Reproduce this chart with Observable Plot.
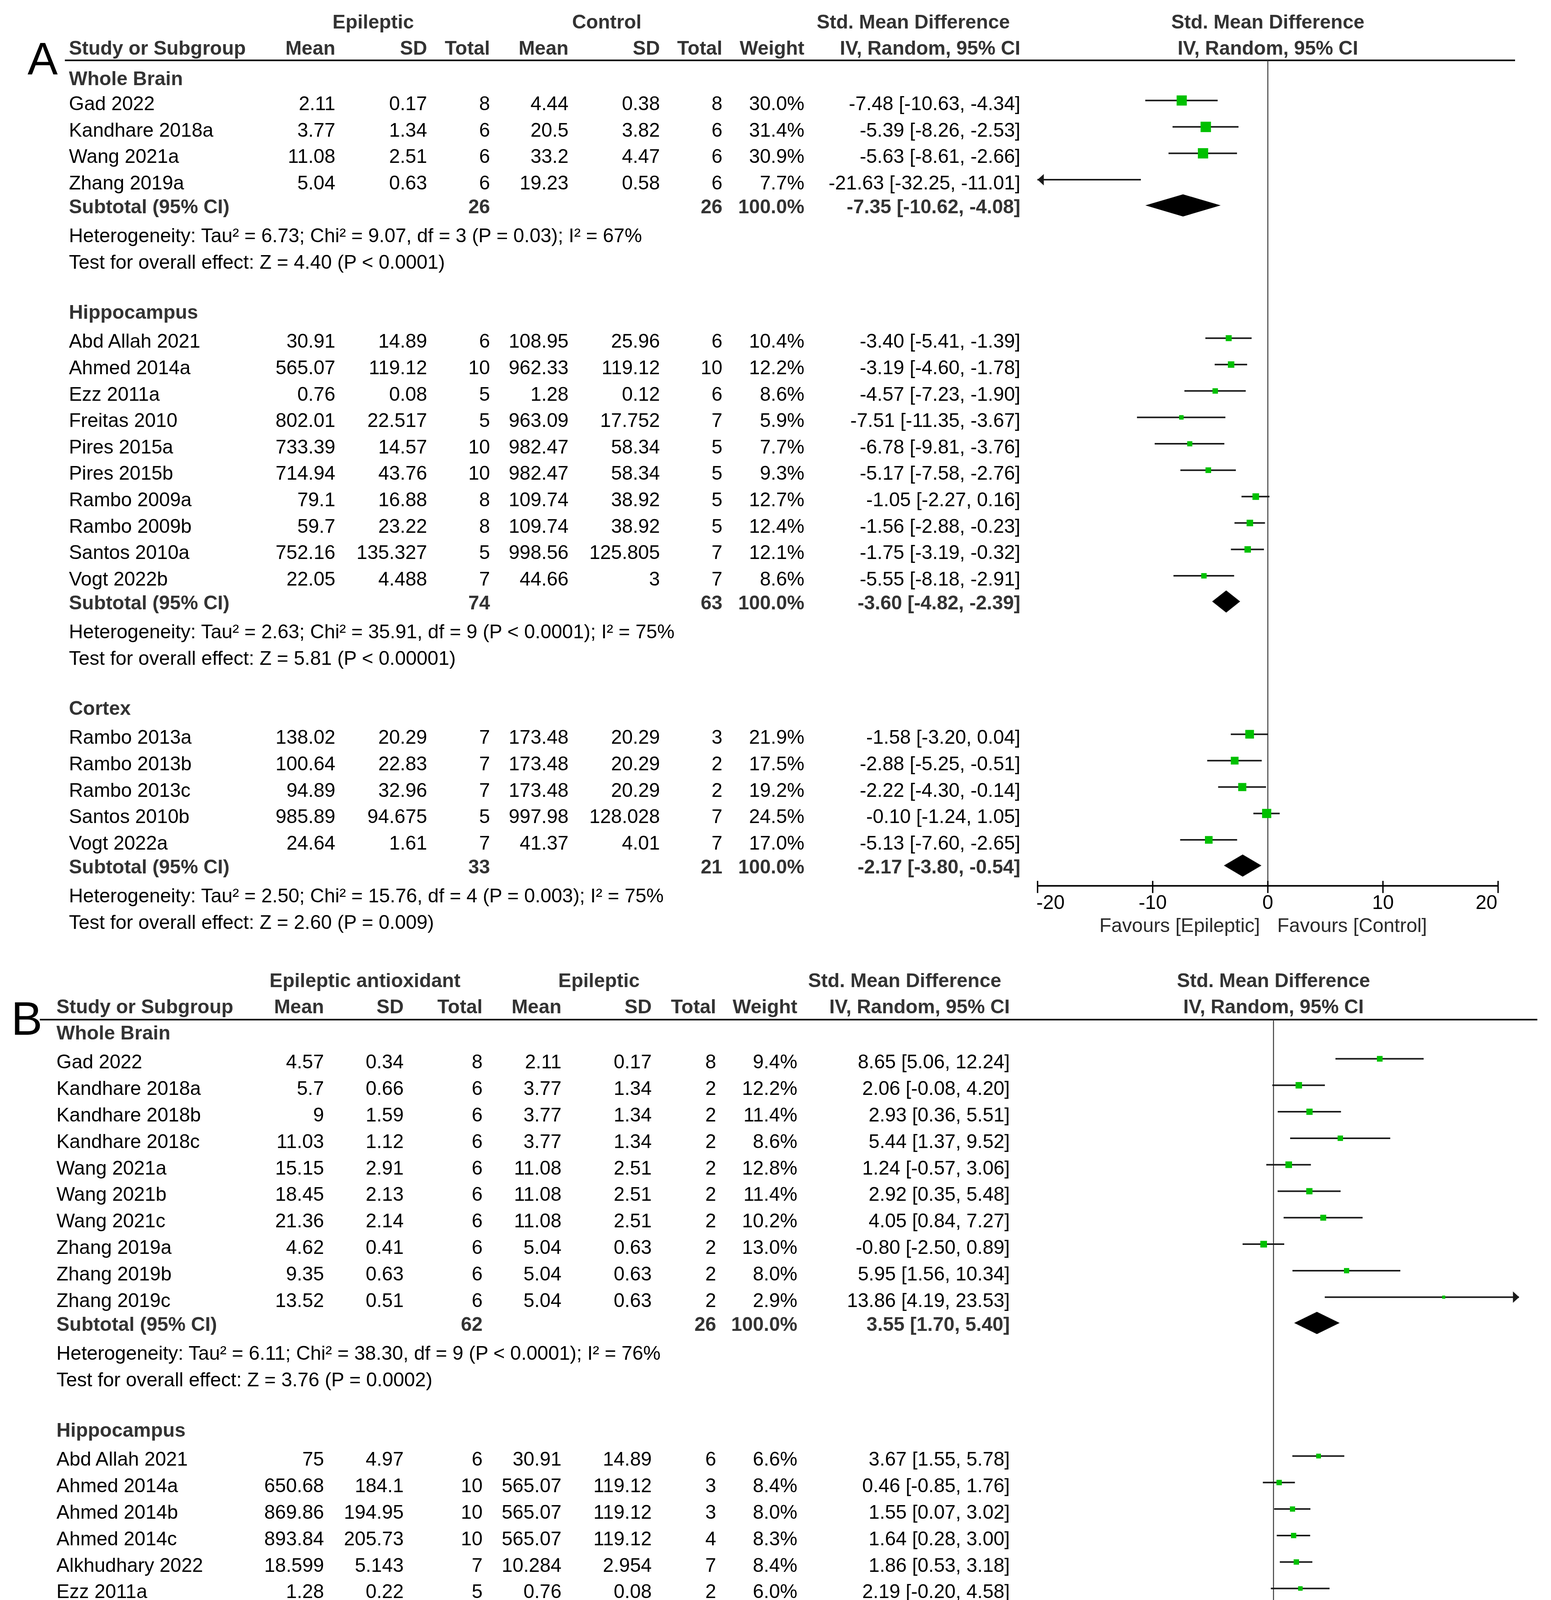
<!DOCTYPE html>
<html>
<head>
<meta charset="utf-8">
<script src="https://cdn.jsdelivr.net/npm/d3@7"></script>
<script src="https://cdn.jsdelivr.net/npm/@observablehq/plot@0.6"></script>
<style>
  html, body { margin: 0; padding: 0; background: #fff; }
  #root svg { display: block; }
</style>
</head>
<body>
<div id="root"></div>
<script>
// ---------------- DATA ----------------
const ticksX = [-20, -10, 0, 10, 20];
const groupNames = ["Whole Brain", "Hippocampus", "Cortex"];
const colHeads = ["Study or Subgroup", "Mean", "SD", "Total", "Mean", "SD", "Total", "Weight", "IV, Random, 95% CI"];
const smdTitle = "Std. Mean Difference";
const ciTitle = "IV, Random, 95% CI";

// Panel A: Epileptic vs Control
const labelA = "A";
const headTopA = ["Epileptic", "Control"];
const favoursA = ["Favours [Epileptic]", "Favours [Control]"];
const studyA = ["Gad 2022", "Kandhare 2018a", "Wang 2021a", "Zhang 2019a",
  "Abd Allah 2021", "Ahmed 2014a", "Ezz 2011a", "Freitas 2010", "Pires 2015a", "Pires 2015b", "Rambo 2009a", "Rambo 2009b", "Santos 2010a", "Vogt 2022b",
  "Rambo 2013a", "Rambo 2013b", "Rambo 2013c", "Santos 2010b", "Vogt 2022a"];
const groupA = [0,0,0,0, 1,1,1,1,1,1,1,1,1,1, 2,2,2,2,2];
const meanE_A = [2.11, 3.77, 11.08, 5.04, 30.91, 565.07, 0.76, 802.01, 733.39, 714.94, 79.1, 59.7, 752.16, 22.05, 138.02, 100.64, 94.89, 985.89, 24.64];
const sdE_A = [0.17, 1.34, 2.51, 0.63, 14.89, 119.12, 0.08, 22.517, 14.57, 43.76, 16.88, 23.22, 135.327, 4.488, 20.29, 22.83, 32.96, 94.675, 1.61];
const nE_A = [8, 6, 6, 6, 6, 10, 5, 5, 10, 10, 8, 8, 5, 7, 7, 7, 7, 5, 7];
const meanC_A = [4.44, 20.5, 33.2, 19.23, 108.95, 962.33, 1.28, 963.09, 982.47, 982.47, 109.74, 109.74, 998.56, 44.66, 173.48, 173.48, 173.48, 997.98, 41.37];
const sdC_A = [0.38, 3.82, 4.47, 0.58, 25.96, 119.12, 0.12, 17.752, 58.34, 58.34, 38.92, 38.92, 125.805, 3, 20.29, 20.29, 20.29, 128.028, 4.01];
const nC_A = [8, 6, 6, 6, 6, 10, 6, 7, 5, 5, 5, 5, 7, 7, 3, 2, 2, 7, 7];
const weightA = [30.0, 31.4, 30.9, 7.7, 10.4, 12.2, 8.6, 5.9, 7.7, 9.3, 12.7, 12.4, 12.1, 8.6, 21.9, 17.5, 19.2, 24.5, 17.0];
const smdA = [-7.48, -5.39, -5.63, -21.63, -3.40, -3.19, -4.57, -7.51, -6.78, -5.17, -1.05, -1.56, -1.75, -5.55, -1.58, -2.88, -2.22, -0.10, -5.13];
const loA = [-10.63, -8.26, -8.61, -32.25, -5.41, -4.60, -7.23, -11.35, -9.81, -7.58, -2.27, -2.88, -3.19, -8.18, -3.20, -5.25, -4.30, -1.24, -7.60];
const hiA = [-4.34, -2.53, -2.66, -11.01, -1.39, -1.78, -1.90, -3.67, -3.76, -2.76, 0.16, -0.23, -0.32, -2.91, 0.04, -0.51, -0.14, 1.05, -2.65];
const subNE_A = [26, 74, 33];
const subNC_A = [26, 63, 21];
const subSmdA = [-7.35, -3.60, -2.17];
const subLoA = [-10.62, -4.82, -3.80];
const subHiA = [-4.08, -2.39, -0.54];
const tau2A = [6.73, 2.63, 2.50];
const chi2A = [9.07, 35.91, 15.76];
const dfA = [3, 9, 4];
const hetPA = ["P = 0.03", "P < 0.0001", "P = 0.003"];
const i2A = [67, 75, 75];
const zA = [4.40, 5.81, 2.60];
const zPA = ["P < 0.0001", "P < 0.00001", "P = 0.009"];

// Panel B: Epileptic antioxidant vs Epileptic
const labelB = "B";
const headTopB = ["Epileptic antioxidant", "Epileptic"];
const favoursB = ["Favours [Epileptic]", "Favours [Antioxidant]"];
const studyB = ["Gad 2022", "Kandhare 2018a", "Kandhare 2018b", "Kandhare 2018c", "Wang 2021a", "Wang 2021b", "Wang 2021c", "Zhang 2019a", "Zhang 2019b", "Zhang 2019c",
  "Abd Allah 2021", "Ahmed 2014a", "Ahmed 2014b", "Ahmed 2014c", "Alkhudhary 2022", "Ezz 2011a", "Ezz 2011b", "Freitas 2010", "Pires 2015a", "Pires 2015b", "Rambo 2009a", "Rambo 2009b", "Santos 2010a", "Vogt 2022b",
  "Rambo 2013a", "Rambo 2013b", "Rambo 2013c", "Santos 2010b", "Vogt 2022a"];
const groupB = [0,0,0,0,0,0,0,0,0,0, 1,1,1,1,1,1,1,1,1,1,1,1,1,1, 2,2,2,2,2];
const meanE_B = [4.57, 5.7, 9, 11.03, 15.15, 18.45, 21.36, 4.62, 9.35, 13.52,
  75, 650.68, 869.86, 893.84, 18.599, 1.28, 0.88, 942.95, 987.08, 987.08, 100.75, 100, 955.33, 45.51,
  198.4, 217.57, 215.66, 991.94, 46.54];
const sdE_B = [0.34, 0.66, 1.59, 1.12, 2.91, 2.13, 2.14, 0.41, 0.63, 0.51,
  4.97, 184.1, 194.95, 205.73, 5.143, 0.22, 0.17, 15.004, 43.76, 29.18, 18.97, 27.43, 29.002, 5.227,
  17.75, 27.91, 25.34, 27.034, 0.792];
const nE_B = [8, 6, 6, 6, 6, 6, 6, 6, 6, 6, 6, 10, 10, 10, 7, 5, 6, 5, 10, 10, 8, 8, 5, 7, 7, 7, 7, 5, 7];
const meanC_B = [2.11, 3.77, 3.77, 3.77, 11.08, 11.08, 11.08, 5.04, 5.04, 5.04,
  30.91, 565.07, 565.07, 565.07, 10.284, 0.76, 0.76, 802.01, 733.39, 714.94, 79.1, 59.7, 752.16, 22.05,
  138.02, 100.64, 94.89, 985.89, 24.64];
const sdC_B = [0.17, 1.34, 1.34, 1.34, 2.51, 2.51, 2.51, 0.63, 0.63, 0.63,
  14.89, 119.12, 119.12, 119.12, 2.954, 0.08, 0.08, 22.517, 14.57, 43.76, 16.88, 23.22, 135.327, 4.488,
  20.29, 22.83, 32.96, 90.67, 1.61];
const nC_B = [8, 2, 2, 2, 2, 2, 2, 2, 2, 2, 6, 3, 3, 4, 7, 2, 3, 5, 10, 10, 8, 8, 5, 7, 7, 7, 7, 5, 7];
const weightB = [9.4, 12.2, 11.4, 8.6, 12.8, 11.4, 10.2, 13.0, 8.0, 2.9,
  6.6, 8.4, 8.0, 8.3, 8.4, 6.0, 8.1, 3.5, 5.4, 5.6, 8.9, 8.8, 7.7, 6.3,
  23.1, 21.7, 22.2, 24.1, 8.9];
const smdB = [8.65, 2.06, 2.93, 5.44, 1.24, 2.92, 4.05, -0.80, 5.95, 13.86,
  3.67, 0.46, 1.55, 1.64, 1.86, 2.19, 0.71, 6.65, 7.45, 7.01, 1.14, 1.50, 1.88, 4.51,
  2.97, 4.29, 3.85, 0.08, 16.16];
const loB = [5.06, -0.08, 0.36, 1.37, -0.57, 0.35, 0.84, -2.50, 1.56, 4.19,
  1.55, -0.85, 0.07, 0.28, 0.53, -0.20, -0.74, 2.71, 4.73, 4.43, 0.06, 0.35, 0.25, 2.28,
  1.30, 2.14, 1.87, -1.16, 9.02];
const hiB = [12.24, 4.20, 5.51, 9.52, 3.06, 5.48, 7.27, 0.89, 10.34, 23.53,
  5.78, 1.76, 3.02, 3.00, 3.18, 4.58, 2.17, 10.60, 10.17, 9.59, 2.22, 2.65, 3.50, 6.74,
  4.63, 6.44, 5.83, 1.32, 23.30];
const subNE_B = [62, 107, 33];
const subNC_B = [26, 81, 33];
const subSmdB = [3.55, 2.58, 3.93];
const subLoB = [1.70, 1.66, 1.29];
const subHiB = [5.40, 3.49, 6.57];
const tau2B = [6.11, 2.15, 7.13];
const chi2B = [38.30, 54.60, 33.00];
const dfB = [9, 13, 4];
const hetPB = ["P < 0.0001", "P < 0.00001", "P < 0.00001"];
const i2B = [76, 76, 88];
const zB = [3.76, 5.51, 2.92];
const zPB = ["P = 0.0002", "P < 0.00001", "P = 0.004"];

// ---------------- LAYOUT / STYLE ----------------
const FF = "'Liberation Sans', Arial, Helvetica, sans-serif";
const FS = 50;
const HEAD = "#333333";
const GREEN = "#00c000";
const INK = "#1a1a1a";
const colKeys = ["name", "meanE", "sdE", "nE", "meanC", "sdC", "nC", "weight", "ci"];

const layoutA = {
  height: 2440, y0: 56, pitch: 67.6, ml: 166, mr: 92, xr: [2656, 3835],
  cols: {name: 176, meanE: 858, sdE: 1093, nE: 1254, meanC: 1455, sdC: 1689, nC: 1849, weight: 2059, ci: 2612},
  headTop: [955, 1553], smdHeadRight: 2585,
  labelX: 70, labelPos: 1.44, labelSize: 116,
  linePos: 1.45, firstGroup: 2.15, firstStudy: 3.1, axisOff: 0.71
};
const layoutB = {
  height: 3111, y0: 70, pitch: 67.8, ml: 102, mr: 35, xr: [2631, 3889],
  cols: {name: 144, meanE: 829, sdE: 1033, nE: 1235, meanC: 1437, sdC: 1668, nC: 1833, weight: 2041, ci: 2585},
  headTop: [934, 1533], smdHeadRight: 2563,
  labelX: 28, labelPos: 1.47, labelSize: 120,
  linePos: 1.47, firstGroup: 1.98, firstStudy: 3.08, axisOff: 0.66
};
const GAP = {group: 1.9, groupToStudy: 1.1, sub: 0.9, het: 1.1, test: 1.0};
const MARK_OFF = -0.13;   // forest markers sit slightly above the text centre (row units)
const DIAMOND_OFF = -0.05;
const DIAMOND_H = 0.42;   // half height of summary diamond, in row units

const arrowLeft = {draw(ctx, size) { const s = Math.sqrt(size); ctx.moveTo(0, 0); ctx.lineTo(1.2 * s, -1.1 * s); ctx.lineTo(1.2 * s, 1.1 * s); ctx.closePath(); }};
const arrowRight = {draw(ctx, size) { const s = Math.sqrt(size); ctx.moveTo(0, 0); ctx.lineTo(-1.2 * s, -1.1 * s); ctx.lineTo(-1.2 * s, 1.1 * s); ctx.closePath(); }};

const fmtCI = (m, l, h) => `${m.toFixed(2)} [${l.toFixed(2)}, ${h.toFixed(2)}]`;

function buildPanel(P, L) {
  const studies = P.study.map((name, i) => ({
    name, g: P.group[i], meanE: P.meanE[i], sdE: P.sdE[i], nE: P.nE[i],
    meanC: P.meanC[i], sdC: P.sdC[i], nC: P.nC[i], w: P.weight[i],
    smd: P.smd[i], lo: P.lo[i], hi: P.hi[i]
  }));
  const groupPos = [], subPos = [], hetPos = [], testPos = [];
  let p = L.firstStudy;
  groupNames.forEach((gn, g) => {
    if (g === 0) groupPos.push(L.firstGroup);
    else { p += GAP.group; groupPos.push(p); p += GAP.groupToStudy; }
    const members = studies.filter(d => d.g === g);
    members.forEach((d, k) => { d.pos = p + k; d.mpos = p + k + MARK_OFF; });
    p += members.length - 1 + GAP.sub; subPos.push(p);
    p += GAP.het; hetPos.push(p);
    p += GAP.test; testPos.push(p);
  });
  const subs = groupNames.map((gn, i) => ({
    pos: subPos[i], nE: P.subNE[i], nC: P.subNC[i],
    smd: P.subSmd[i], lo: P.subLo[i], hi: P.subHi[i]
  }));
  const hets = groupNames.map((gn, i) => ({
    pos: hetPos[i],
    t: `Heterogeneity: Tau² = ${P.tau2[i].toFixed(2)}; Chi² = ${P.chi2[i].toFixed(2)}, df = ${P.df[i]} (${P.hetP[i]}); I² = ${P.i2[i]}%`
  }));
  const tests = groupNames.map((gn, i) => ({
    pos: testPos[i], t: `Test for overall effect: Z = ${P.z[i].toFixed(2)} (${P.zP[i]})`
  }));
  const groupsLab = groupNames.map((n, i) => ({n, pos: groupPos[i]}));
  const diamonds = subs.flatMap((s, i) => {
    const c = s.pos + DIAMOND_OFF;
    return [
      {k: i, x: s.lo, y1: c, y2: c},
      {k: i, x: s.smd, y1: c - DIAMOND_H, y2: c + DIAMOND_H},
      {k: i, x: s.hi, y1: c, y2: c}
    ];
  });
  const axisPos = subPos[subPos.length - 1] + L.axisOff;

  const dxOf = key => L.cols[key] - L.ml;
  const font = {fontFamily: FF, fontSize: FS};
  const bold = {fontWeight: "bold", fill: HEAD};
  const txt = (data, o) => Plot.text(data, {frameAnchor: "left", ...font, fill: "#000", ...o});

  const marks = [];
  // header rule and zero line
  marks.push(Plot.ruleY([L.linePos], {stroke: "#000", strokeWidth: 4}));
  marks.push(Plot.ruleX([0], {y1: L.linePos, y2: axisPos, stroke: "#3a3a3a", strokeWidth: 2.5}));
  // panel label
  marks.push(txt([P.label], {y: L.labelPos, text: d => d, dx: L.labelX - L.ml, textAnchor: "start", fontSize: L.labelSize}));
  // header row 1
  P.headTop.forEach((t, i) => marks.push(txt([t], {y: 0, text: d => d, dx: L.headTop[i] - L.ml, textAnchor: "middle", ...bold})));
  marks.push(txt([smdTitle], {y: 0, text: d => d, dx: L.smdHeadRight - L.ml, textAnchor: "end", ...bold}));
  marks.push(Plot.text([smdTitle], {x: 0, y: 0, text: d => d, textAnchor: "middle", ...font, ...bold}));
  // header row 2
  colHeads.forEach((h, i) => marks.push(txt([h], {y: 1, text: d => d, dx: dxOf(colKeys[i]), textAnchor: i === 0 ? "start" : "end", ...bold})));
  marks.push(Plot.text([ciTitle], {x: 0, y: 1, text: d => d, textAnchor: "middle", ...font, ...bold}));
  // group labels
  marks.push(txt(groupsLab, {y: "pos", text: "n", dx: dxOf("name"), textAnchor: "start", ...bold}));
  // study rows
  marks.push(txt(studies, {y: "pos", text: "name", dx: dxOf("name"), textAnchor: "start"}));
  ["meanE", "sdE", "nE", "meanC", "sdC", "nC"].forEach(k =>
    marks.push(txt(studies, {y: "pos", text: d => String(d[k]), dx: dxOf(k), textAnchor: "end"})));
  marks.push(txt(studies, {y: "pos", text: d => `${d.w.toFixed(1)}%`, dx: dxOf("weight"), textAnchor: "end"}));
  marks.push(txt(studies, {y: "pos", text: d => fmtCI(d.smd, d.lo, d.hi), dx: dxOf("ci"), textAnchor: "end"}));
  // subtotal rows
  marks.push(txt(subs, {y: "pos", text: () => "Subtotal (95% CI)", dx: dxOf("name"), textAnchor: "start", ...bold}));
  marks.push(txt(subs, {y: "pos", text: d => String(d.nE), dx: dxOf("nE"), textAnchor: "end", ...bold}));
  marks.push(txt(subs, {y: "pos", text: d => String(d.nC), dx: dxOf("nC"), textAnchor: "end", ...bold}));
  marks.push(txt(subs, {y: "pos", text: () => "100.0%", dx: dxOf("weight"), textAnchor: "end", ...bold}));
  marks.push(txt(subs, {y: "pos", text: d => fmtCI(d.smd, d.lo, d.hi), dx: dxOf("ci"), textAnchor: "end", ...bold}));
  // heterogeneity / overall effect
  marks.push(txt(hets, {y: "pos", text: "t", dx: dxOf("name"), textAnchor: "start"}));
  marks.push(txt(tests, {y: "pos", text: "t", dx: dxOf("name"), textAnchor: "start"}));
  // forest: CIs, arrows, squares, diamonds
  marks.push(Plot.ruleY(studies, {y: "mpos", x1: d => Math.max(d.lo, -20), x2: d => Math.min(d.hi, 20), stroke: INK, strokeWidth: 4}));
  marks.push(Plot.dot(studies.filter(d => d.lo < -20), {x: () => -20, y: "mpos", r: 7.5, symbol: arrowLeft, fill: INK, stroke: "none"}));
  marks.push(Plot.dot(studies.filter(d => d.hi > 20), {x: () => 20, y: "mpos", r: 7.5, symbol: arrowRight, fill: INK, stroke: "none"}));
  marks.push(Plot.dot(studies.filter(d => Math.abs(d.smd) <= 20), {x: "smd", y: "mpos", r: "w", symbol: "square", fill: GREEN, stroke: "none"}));
  marks.push(Plot.areaY(diamonds, {x: "x", y1: "y1", y2: "y2", z: "k", fill: "#000", curve: "linear"}));
  // axis
  marks.push(Plot.ruleY([axisPos], {x1: -20, x2: 20, stroke: "#000", strokeWidth: 4}));
  marks.push(Plot.ruleX(ticksX, {y1: axisPos - 0.18, y2: axisPos + 0.28, stroke: "#000", strokeWidth: 3.5}));
  marks.push(Plot.text(ticksX.slice(1, -1), {x: d => d, y: axisPos + 0.64, text: d => String(d), textAnchor: "middle", ...font, fill: "#000"}));
  marks.push(Plot.text(ticksX.slice(0, 1), {x: d => d, y: axisPos + 0.64, text: d => String(d), textAnchor: "start", dx: -3, ...font, fill: "#000"}));
  marks.push(Plot.text(ticksX.slice(-1), {x: d => d, y: axisPos + 0.64, text: d => String(d), textAnchor: "end", dx: -2, ...font, fill: "#000"}));
  marks.push(Plot.text([P.favours[0]], {x: 0, y: axisPos + 1.52, text: d => d, textAnchor: "end", dx: -20, ...font, fill: "#2a2a2a"}));
  marks.push(Plot.text([P.favours[1]], {x: 0, y: axisPos + 1.52, text: d => d, textAnchor: "start", dx: 24, ...font, fill: "#2a2a2a"}));

  const N = 50;
  return Plot.plot({
    width: 3971, height: L.height,
    marginLeft: L.ml, marginRight: L.mr, marginTop: 0, marginBottom: 0,
    style: {background: "#fff", overflow: "visible"},
    x: {domain: [-20, 20], range: L.xr, axis: null},
    y: {domain: [0, N], range: [L.y0, L.y0 + N * L.pitch], axis: null},
    r: {type: "sqrt", domain: [0, 100], range: [0, 26.8]},
    marks
  });
}

const PA = {label: labelA, headTop: headTopA, favours: favoursA, study: studyA, group: groupA,
  meanE: meanE_A, sdE: sdE_A, nE: nE_A, meanC: meanC_A, sdC: sdC_A, nC: nC_A, weight: weightA,
  smd: smdA, lo: loA, hi: hiA, subNE: subNE_A, subNC: subNC_A, subSmd: subSmdA, subLo: subLoA, subHi: subHiA,
  tau2: tau2A, chi2: chi2A, df: dfA, hetP: hetPA, i2: i2A, z: zA, zP: zPA};
const PB = {label: labelB, headTop: headTopB, favours: favoursB, study: studyB, group: groupB,
  meanE: meanE_B, sdE: sdE_B, nE: nE_B, meanC: meanC_B, sdC: sdC_B, nC: nC_B, weight: weightB,
  smd: smdB, lo: loB, hi: hiB, subNE: subNE_B, subNC: subNC_B, subSmd: subSmdB, subLo: subLoB, subHi: subHiB,
  tau2: tau2B, chi2: chi2B, df: dfB, hetP: hetPB, i2: i2B, z: zB, zP: zPB};

const root = document.getElementById("root");
root.appendChild(buildPanel(PA, layoutA));
root.appendChild(buildPanel(PB, layoutB));
</script>
</body>
</html>
